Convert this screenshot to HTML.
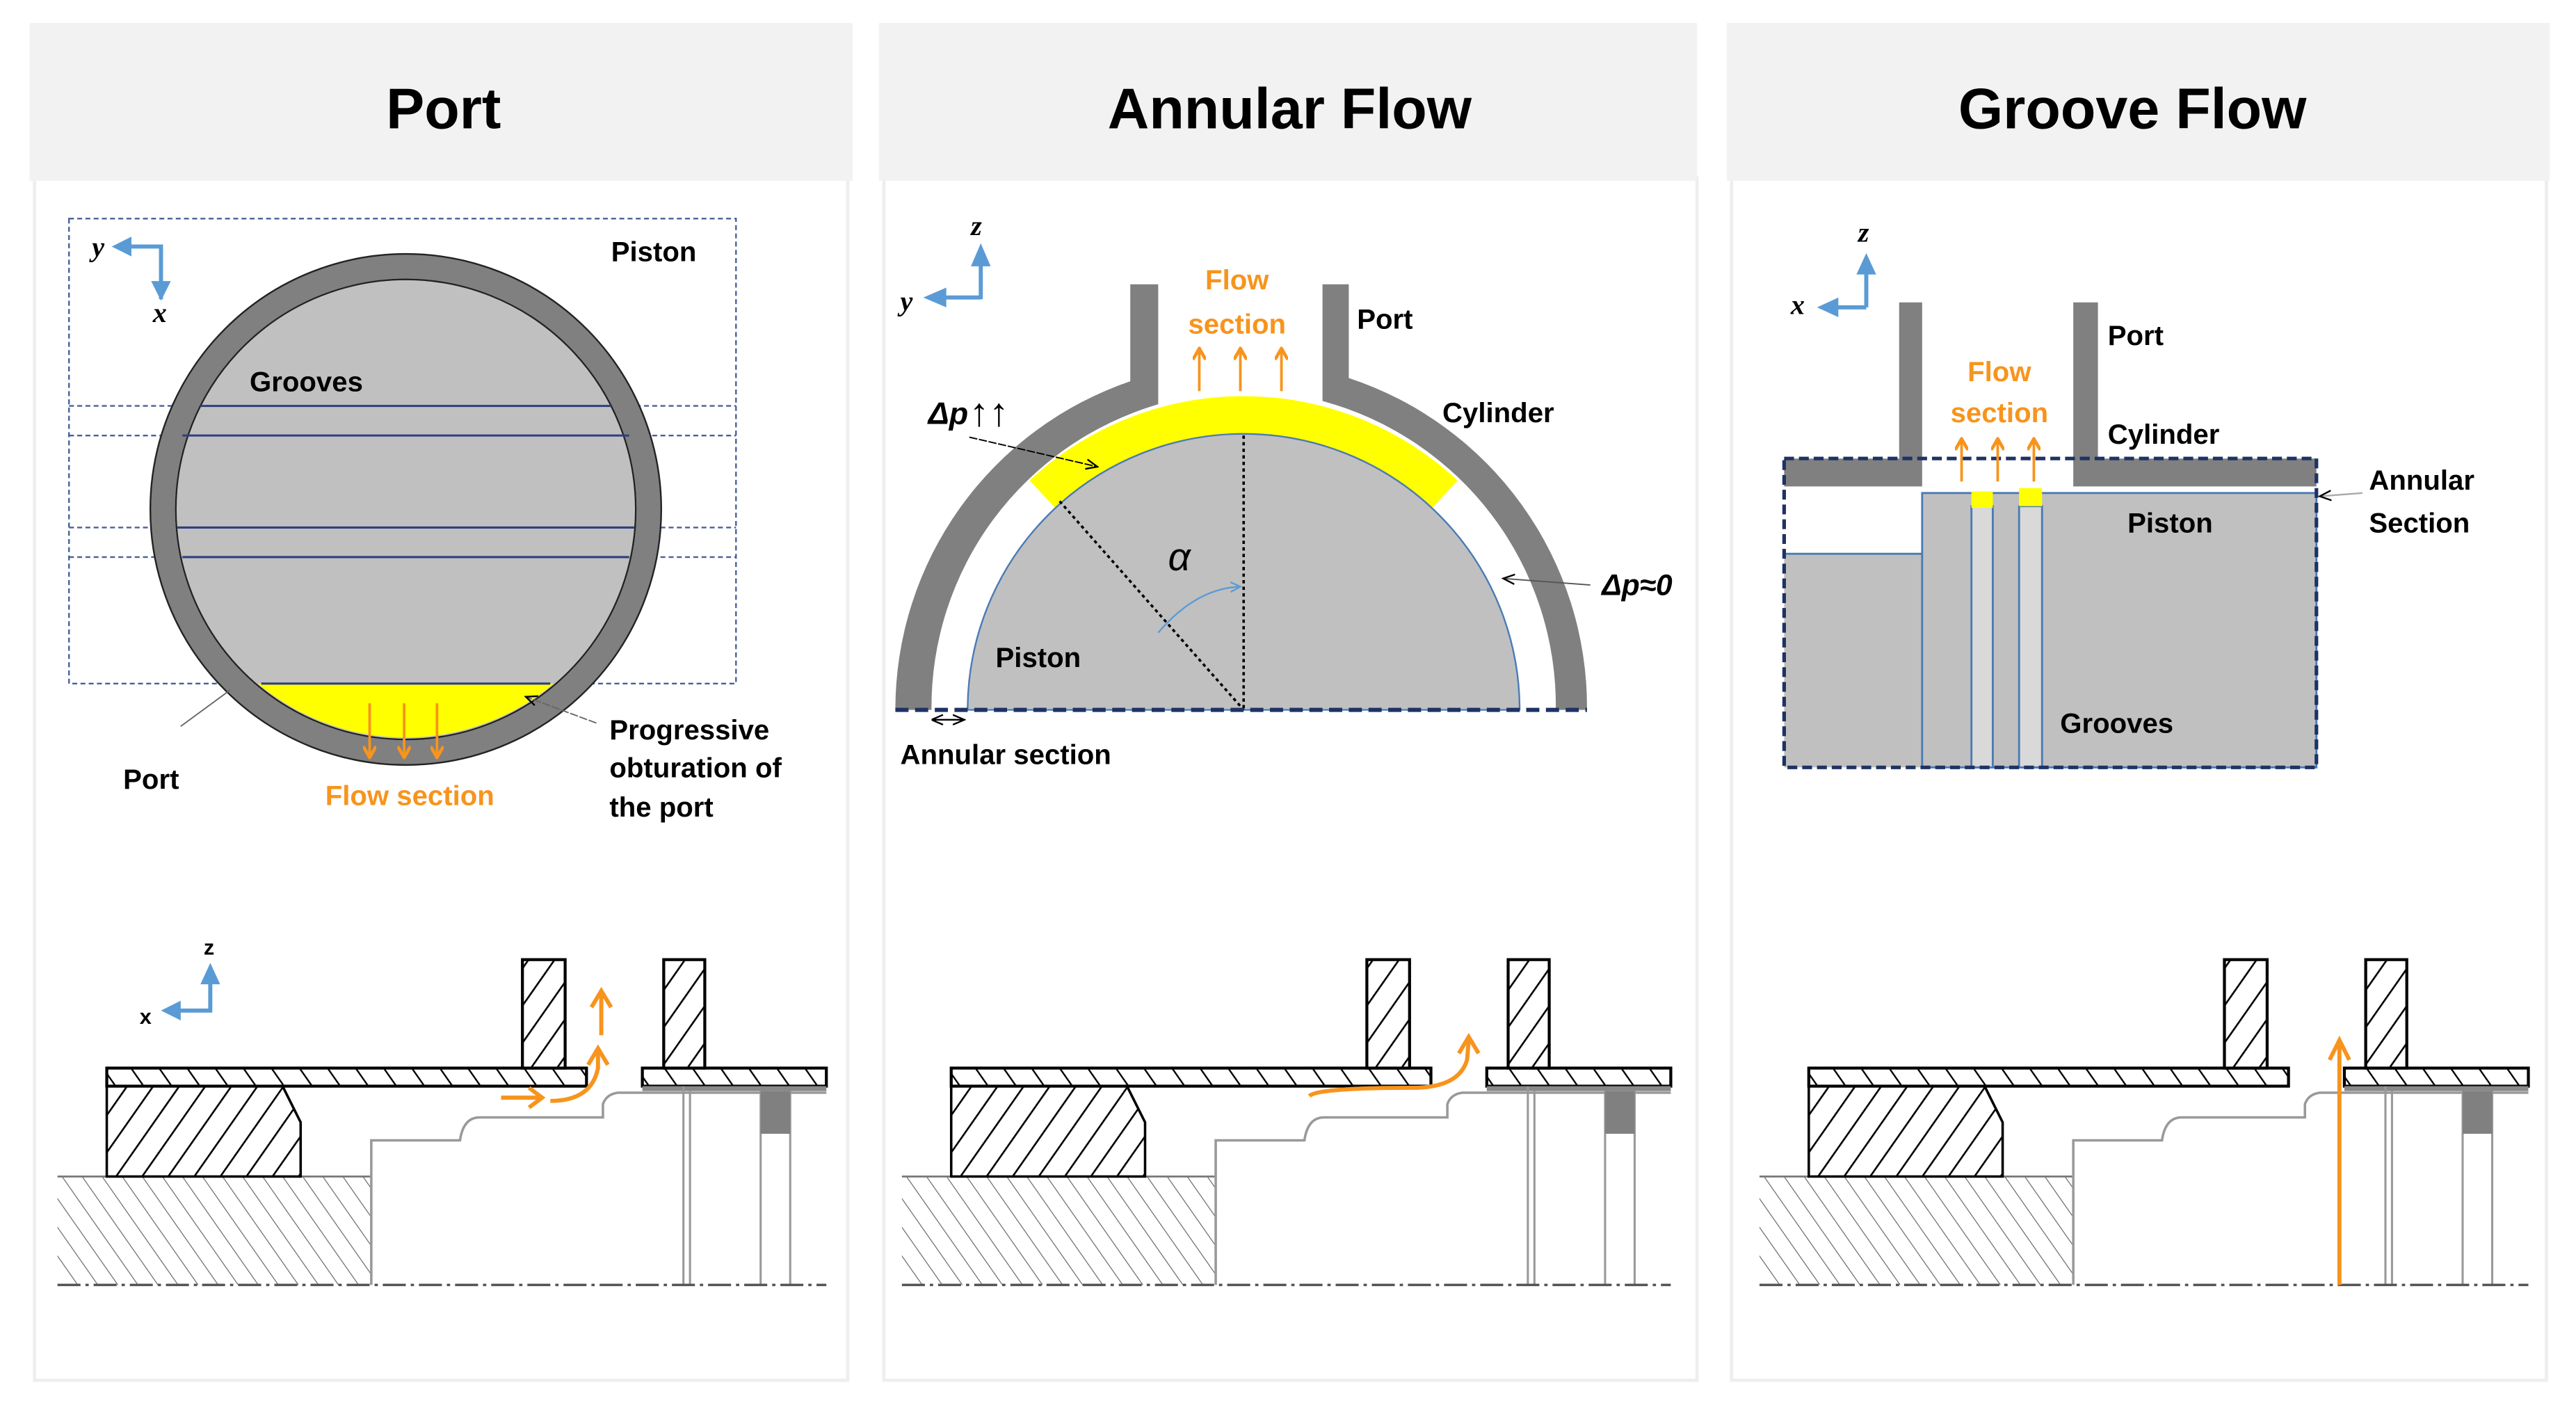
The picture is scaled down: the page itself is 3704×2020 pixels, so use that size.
<!DOCTYPE html>
<html><head><meta charset="utf-8"><style>
html,body{margin:0;padding:0;background:#fff}
svg{display:block}
text{font-family:"Liberation Sans",sans-serif}
.b{font-weight:bold;font-size:17px;fill:#000}
.o{font-weight:bold;font-size:17px;fill:#f7941d}
.h{font-weight:bold;font-size:35px;fill:#000;text-anchor:middle}
.it{font-family:"Liberation Serif",serif;font-style:italic;font-weight:bold;font-size:17px}
</style></head><body>
<svg width="3704" height="2020" viewBox="0 0 1568 855" xmlns="http://www.w3.org/2000/svg">
<defs>
<pattern id="hd" patternUnits="userSpaceOnUse" width="13" height="13" patternTransform="rotate(35)">
<rect width="13" height="13" fill="#fff"/><line x1="0" y1="0" x2="0" y2="13" stroke="#000" stroke-width="2.2"/></pattern>
<pattern id="hp" patternUnits="userSpaceOnUse" width="14" height="14" patternTransform="rotate(-35)">
<rect width="14" height="14" fill="#fff"/><line x1="0" y1="0" x2="0" y2="14" stroke="#000" stroke-width="2"/></pattern>
<pattern id="hl" patternUnits="userSpaceOnUse" width="10" height="10" patternTransform="rotate(-35)">
<rect width="10" height="10" fill="#fff"/><line x1="0" y1="0" x2="0" y2="10" stroke="#666" stroke-width="1"/></pattern>
<marker id="ao" markerWidth="8" markerHeight="8" refX="6" refY="4" orient="auto" markerUnits="userSpaceOnUse"><path d="M0,0 L7,4 L0,8" fill="none" stroke="#f7941d" stroke-width="2"/></marker>
<marker id="ak" markerWidth="8" markerHeight="8" refX="7" refY="4" orient="auto" markerUnits="userSpaceOnUse"><path d="M0,1 L7,4 L0,7" fill="none" stroke="#000" stroke-width="1"/></marker>
<marker id="ak0" markerWidth="8" markerHeight="8" refX="1" refY="4" orient="auto" markerUnits="userSpaceOnUse"><path d="M7,1 L0,4 L7,7" fill="none" stroke="#000" stroke-width="1"/></marker>
<marker id="abl" markerWidth="8" markerHeight="8" refX="6" refY="4" orient="auto" markerUnits="userSpaceOnUse"><path d="M0,1 L6,4 L0,7" fill="none" stroke="#5b9bd5" stroke-width="1"/></marker>
<g id="bot">
<rect x="35" y="716" width="191" height="66" fill="url(#hl)"/>
<line x1="35" y1="716" x2="226" y2="716" stroke="#777" stroke-width="1.2"/>
<path d="M65,661 L172,661 L183,683 L183,716 L65,716 Z" fill="url(#hd)" stroke="#000" stroke-width="1.5"/>
<rect x="65" y="650" width="292" height="11" fill="url(#hp)" stroke="#000" stroke-width="1.8"/>
<rect x="391" y="650" width="112" height="11" fill="url(#hp)" stroke="#000" stroke-width="1.8"/>
<rect x="318" y="584" width="26" height="66" fill="url(#hd)" stroke="#000" stroke-width="1.8"/>
<rect x="404" y="584" width="25" height="66" fill="url(#hd)" stroke="#000" stroke-width="1.8"/>
<path d="M226,782 L226,694 L280,694 Q282,680 292,680 L367,680 L367,672 Q369,666 376,665 L503,665" fill="none" stroke="#999" stroke-width="1.5"/>
<rect x="391" y="661" width="112" height="3" fill="#888"/>
<line x1="416" y1="661" x2="416" y2="782" stroke="#999" stroke-width="1.3"/>
<line x1="420" y1="664" x2="420" y2="782" stroke="#999" stroke-width="1.3"/>
<line x1="463" y1="664" x2="463" y2="782" stroke="#999" stroke-width="1.3"/>
<line x1="481" y1="664" x2="481" y2="782" stroke="#999" stroke-width="1.3"/>
<rect x="463" y="664" width="18" height="26" fill="#808080"/>
<line x1="35" y1="782" x2="503" y2="782" stroke="#555" stroke-width="1.5" stroke-dasharray="14,3,2,3"/>
</g>
</defs>
<rect width="1568" height="855" fill="#fff"/>
<g>
<rect x="21" y="108" width="495" height="732" fill="#fff" stroke="#eee" stroke-width="2"/>
<rect x="538" y="108" width="495" height="732" fill="#fff" stroke="#eee" stroke-width="2"/>
<rect x="1054" y="108" width="496" height="732" fill="#fff" stroke="#eee" stroke-width="2"/>
<rect x="18" y="14" width="501" height="96" fill="#f2f2f2"/>
<rect x="535" y="14" width="498" height="96" fill="#f2f2f2"/>
<rect x="1051" y="14" width="501" height="96" fill="#f2f2f2"/>
<text class="h" x="270" y="78">Port</text>
<text class="h" x="785" y="78">Annular Flow</text>
<text class="h" x="1298" y="78">Groove Flow</text>
</g>

<!-- Panel 1 top -->
<g fill="none" stroke="#4a5f9a" stroke-width="1" stroke-dasharray="3,2">
<rect x="42" y="133" width="406" height="283"/>
<line x1="42" y1="247" x2="448" y2="247"/><line x1="42" y1="265" x2="448" y2="265"/>
<line x1="42" y1="321" x2="448" y2="321"/><line x1="42" y1="339" x2="448" y2="339"/>
</g>
<circle cx="247" cy="310" r="148" fill="none" stroke="#808080" stroke-width="15"/>
<circle cx="247" cy="310" r="155.5" fill="none" stroke="#222" stroke-width="1"/>
<circle cx="247" cy="310" r="140" fill="#c0c0c0" stroke="#222" stroke-width="1"/>
<path d="M157,416 L337,416 A140,140 0 0 1 157,416 Z" fill="#ffff00"/>
<g stroke="#2f3f7f" stroke-width="1.3">
<line x1="159" y1="416" x2="335" y2="416"/>
<line x1="122" y1="247" x2="372" y2="247"/><line x1="111" y1="265" x2="383" y2="265"/>
<line x1="108" y1="321" x2="386" y2="321"/><line x1="111" y1="339" x2="383" y2="339"/>
</g>
<g stroke="#f7941d" stroke-width="1.6" marker-end="url(#ao)">
<line x1="225" y1="428" x2="225" y2="460"/><line x1="246" y1="428" x2="246" y2="460"/><line x1="266" y1="428" x2="266" y2="460"/>
</g>
<polyline points="98,182 98,150 72,150" fill="none" stroke="#5b9bd5" stroke-width="2.5"/>
<path d="M68,150 L80,144 L80,156 Z" fill="#5b9bd5"/>
<path d="M98,183 L92,171 L104,171 Z" fill="#5b9bd5"/>
<text class="it" x="56" y="156">y</text>
<text class="it" x="93" y="196">x</text>
<text class="b" x="372" y="159">Piston</text>
<text class="b" x="152" y="238">Grooves</text>
<text class="b" x="75" y="480">Port</text>
<text class="o" x="198" y="490">Flow section</text>
<text class="b" x="371" y="450">Progressive</text>
<text class="b" x="371" y="473">obturation of</text>
<text class="b" x="371" y="497">the port</text>
<line x1="110" y1="442" x2="140" y2="420" stroke="#666" stroke-width="0.8"/>
<line x1="363" y1="440" x2="320" y2="424" stroke="#666" stroke-width="0.8" stroke-dasharray="5,1" marker-end="url(#ak)"/>

<use href="#bot"/>
<use href="#bot" x="514"/>
<use href="#bot" x="1036"/>
<polyline points="128,589 128,615 104,615" fill="none" stroke="#5b9bd5" stroke-width="2.5"/>
<path d="M128,586 L122,599 L134,599 Z" fill="#5b9bd5"/>
<path d="M98,615 L110,609 L110,621 Z" fill="#5b9bd5"/>
<text x="124" y="581" font-size="13" font-weight="bold">z</text>
<text x="85" y="623" font-size="13" font-weight="bold">x</text>
<g stroke="#f7941d" stroke-width="2.5" fill="none">
<line x1="305" y1="668" x2="330" y2="668"/><polyline points="322,662 330,668 322,674"/>
<path d="M335,670 Q360,670 364,650 L364,640"/><polyline points="358,648 364,638 370,648"/>
<line x1="366" y1="630" x2="366" y2="605"/><polyline points="360,613 366,603 372,613"/>
</g>
<g stroke="#f7941d" stroke-width="2.5" fill="none">
<path d="M797,667 Q802,662 860,662 Q888,662 893,645 L894,633"/><polyline points="888,641 894,631 900,641"/>
</g>
<g stroke="#f7941d" stroke-width="2.5" fill="none">
<line x1="1424" y1="782" x2="1424" y2="636"/><polyline points="1418,645 1424,633 1430,645"/>
</g>

<!-- Panel 2 top -->
<path d="M545,432 A211,211 0 0 1 688,232 L688,173 L705,173 L705,246 A192,192 0 0 0 567,432 Z" fill="#808080"/>
<path d="M966,432 A211,211 0 0 0 821,230 L821,173 L805,173 L805,244 A192,192 0 0 1 947,432 Z" fill="#808080"/>
<path d="M626.7,292.4 A191,191 0 0 1 887.3,292.4 L871.6,309.2 A168,168 0 0 0 642.4,309.2 Z" fill="#ffff00"/>
<path d="M589,432 A168,168 0 0 1 925,432 Z" fill="#c0c0c0" stroke="#4a7ab5" stroke-width="1"/>
<line x1="757" y1="265" x2="757" y2="432" stroke="#000" stroke-width="1.5" stroke-dasharray="2,2"/>
<line x1="645" y1="305" x2="757" y2="432" stroke="#000" stroke-width="1.5" stroke-dasharray="2,2"/>
<path d="M705,385 Q728,358 755,357" fill="none" stroke="#5b9bd5" stroke-width="1" marker-end="url(#abl)"/>
<line x1="545" y1="432" x2="966" y2="432" stroke="#1f3264" stroke-width="2.5" stroke-dasharray="8,4"/>
<line x1="568" y1="438" x2="587" y2="438" stroke="#000" stroke-width="1" marker-start="url(#ak0)" marker-end="url(#ak)"/>
<text x="711" y="347" font-family="Liberation Serif" font-style="italic" font-size="24">α</text>
<g stroke="#f7941d" stroke-width="1.6" marker-end="url(#ao)">
<line x1="730" y1="238" x2="730" y2="213"/><line x1="755" y1="238" x2="755" y2="213"/><line x1="780" y1="238" x2="780" y2="213"/>
</g>
<text class="o" x="753" y="176" text-anchor="middle" font-size="19">Flow</text>
<text class="o" x="753" y="203" text-anchor="middle" font-size="19">section</text>
<text class="b" x="826" y="200" font-size="18">Port</text>
<text class="b" x="878" y="257" font-size="18">Cylinder</text>
<text x="565" y="258" font-size="19" font-weight="bold" font-style="italic">Δp</text>
<text x="590" y="259" font-size="24" font-weight="bold">↑↑</text>
<line x1="590" y1="266" x2="668" y2="284" stroke="#000" stroke-width="0.8" stroke-dasharray="5,1" marker-end="url(#ak)"/>
<text x="975" y="362" font-size="18" font-weight="bold" font-style="italic">Δp≈0</text>
<line x1="968" y1="356" x2="915" y2="352" stroke="#555" stroke-width="0.8" marker-end="url(#ak)"/>
<text class="b" x="606" y="406" font-size="18">Piston</text>
<text class="b" x="548" y="465" font-size="18">Annular section</text>
<line x1="597" y1="181" x2="569" y2="181" stroke="#5b9bd5" stroke-width="2.5"/>
<line x1="597" y1="182" x2="597" y2="155" stroke="#5b9bd5" stroke-width="2.5"/>
<path d="M597,148 L591,162 L603,162 Z" fill="#5b9bd5"/>
<path d="M562,181 L576,175 L576,187 Z" fill="#5b9bd5"/>
<text class="it" x="591" y="143">z</text>
<text class="it" x="548" y="189">y</text>

<!-- Panel 3 top -->
<rect x="1086" y="337" width="84" height="130" fill="#c0c0c0"/>
<line x1="1086" y1="337" x2="1170" y2="337" stroke="#4a7ab5" stroke-width="1.2"/>
<rect x="1170" y="300" width="240" height="167" fill="#c0c0c0" stroke="#4a7ab5" stroke-width="1.2"/>
<rect x="1200" y="308" width="13" height="159" fill="#d9d9d9" stroke="#4a7ab5" stroke-width="1.2"/>
<rect x="1229" y="308" width="14" height="159" fill="#d9d9d9" stroke="#4a7ab5" stroke-width="1.2"/>
<rect x="1200" y="299" width="13" height="10" fill="#ffff00"/>
<rect x="1229" y="297" width="14" height="11" fill="#ffff00"/>
<path d="M1086,279 L1156,279 L1156,184 L1170,184 L1170,296 L1086,296 Z" fill="#808080"/>
<path d="M1262,184 L1277,184 L1277,279 L1410,279 L1410,296 L1262,296 Z" fill="#808080"/>
<rect x="1086" y="279" width="324" height="188" fill="none" stroke="#1f3264" stroke-width="2.2" stroke-dasharray="6,3"/>
<g stroke="#f7941d" stroke-width="1.6" marker-end="url(#ao)">
<line x1="1194" y1="293" x2="1194" y2="268"/><line x1="1216" y1="293" x2="1216" y2="268"/><line x1="1238" y1="293" x2="1238" y2="268"/>
</g>
<text class="o" x="1217" y="232" text-anchor="middle">Flow</text>
<text class="o" x="1217" y="257" text-anchor="middle">section</text>
<text class="b" x="1283" y="210">Port</text>
<text class="b" x="1283" y="270">Cylinder</text>
<text class="b" x="1295" y="324">Piston</text>
<text class="b" x="1254" y="446">Grooves</text>
<text class="b" x="1442" y="298">Annular</text>
<text class="b" x="1442" y="324">Section</text>
<line x1="1438" y1="300" x2="1412" y2="302" stroke="#aaa" stroke-width="1" marker-end="url(#ak)"/>
<line x1="1136" y1="187" x2="1136" y2="162" stroke="#5b9bd5" stroke-width="2.5"/>
<line x1="1136" y1="187" x2="1113" y2="187" stroke="#5b9bd5" stroke-width="2.5"/>
<path d="M1136,154 L1130,167 L1142,167 Z" fill="#5b9bd5"/>
<path d="M1106,187 L1119,181 L1119,193 Z" fill="#5b9bd5"/>
<text class="it" x="1131" y="147">z</text>
<text class="it" x="1090" y="191">x</text>
</svg>
</body></html>
